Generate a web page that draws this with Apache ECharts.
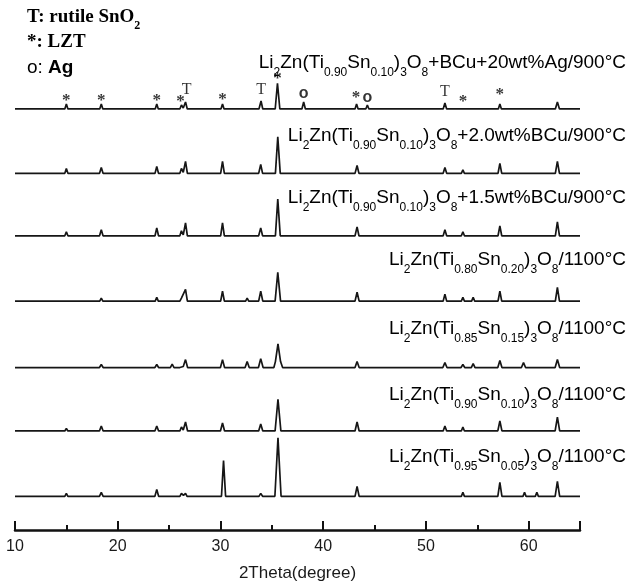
<!DOCTYPE html>
<html>
<head>
<meta charset="utf-8">
<script src="https://cdn.jsdelivr.net/npm/echarts/dist/echarts.min.js"></script>
<style>html,body{margin:0;padding:0;background:#fff}#c{width:630px;height:587px}</style>
</head>
<body>
<div id="c"></div>
<script>
// ---- data (2Theta in degrees, intensity in arbitrary units above each pattern's baseline) ----
const xTicks = [10, 20, 30, 40, 50, 60];

const sampleLabels = [
  '{m|Li}{s|2}{m|Zn(Ti}{s|0.90}{m|Sn}{s|0.10}{m|)}{s|3}{m|O}{s|8}{m|+BCu+20wt%Ag/900°C}',
  '{m|Li}{s|2}{m|Zn(Ti}{s|0.90}{m|Sn}{s|0.10}{m|)}{s|3}{m|O}{s|8}{m|+2.0wt%BCu/900°C}',
  '{m|Li}{s|2}{m|Zn(Ti}{s|0.90}{m|Sn}{s|0.10}{m|)}{s|3}{m|O}{s|8}{m|+1.5wt%BCu/900°C}',
  '{m|Li}{s|2}{m|Zn(Ti}{s|0.80}{m|Sn}{s|0.20}{m|)}{s|3}{m|O}{s|8}{m|/1100°C}',
  '{m|Li}{s|2}{m|Zn(Ti}{s|0.85}{m|Sn}{s|0.15}{m|)}{s|3}{m|O}{s|8}{m|/1100°C}',
  '{m|Li}{s|2}{m|Zn(Ti}{s|0.90}{m|Sn}{s|0.10}{m|)}{s|3}{m|O}{s|8}{m|/1100°C}',
  '{m|Li}{s|2}{m|Zn(Ti}{s|0.95}{m|Sn}{s|0.05}{m|)}{s|3}{m|O}{s|8}{m|/1100°C}'
];

// vertical stacking offset of each pattern (same units as intensity)
const offsets = [425, 360, 297, 231, 164, 100, 34];

const traceAg20 = [[10,0],[14.85,0],[15.0,5],[15.15,0],[18.25,0],[18.4,5],[18.55,0],[23.65,0],[23.8,5],[23.95,0],[26.05,0],[26.2,4],[26.38,1],[26.6,7],[26.77,0],[30.05,0],[30.2,5],[30.35,0],[33.75,0],[33.95,8],[34.12,0],[35.33,0],[35.55,26],[35.78,0],[37.93,0],[38.1,7],[38.27,0],[43.1,0],[43.25,5],[43.4,0],[44.15,0],[44.3,4],[44.45,0],[51.68,0],[51.85,6],[52.02,0],[53.45,0],[53.6,2],[53.75,0],[55.2,0],[55.3,1],[55.4,0],[57.05,0],[57.2,5],[57.35,0],[62.6,0],[62.8,7],[63.0,0],[65,0]];

const traceBCu20 = [[10,0],[14.85,0],[15.0,5],[15.15,0],[18.23,0],[18.4,6],[18.57,0],[23.63,0],[23.8,7],[23.97,0],[26.05,0],[26.2,5],[26.38,1],[26.6,12],[26.78,0],[30.02,0],[30.2,12],[30.38,0],[33.72,0],[33.92,9],[34.1,0],[35.35,0],[35.58,37],[35.82,0],[37.2,0],[37.3,2],[37.4,0],[43.1,0],[43.3,8],[43.48,0],[51.68,0],[51.85,6],[52.02,0],[53.45,0],[53.6,3.5],[53.75,0],[54.5,0],[54.6,2],[54.7,0],[57.02,0],[57.2,10],[57.38,0],[62.6,0],[62.8,12],[63.0,0],[65,0]];

const traceBCu15 = [[10,0],[14.85,0],[15.0,4],[15.15,0],[18.23,0],[18.4,6],[18.57,0],[23.63,0],[23.8,8],[23.97,0],[26.05,0],[26.2,5],[26.38,1],[26.6,13],[26.78,0],[30.02,0],[30.2,13],[30.38,0],[33.72,0],[33.92,8],[34.1,0],[35.35,0],[35.58,37],[35.82,0],[37.2,0],[37.3,2],[37.4,0],[43.1,0],[43.3,9],[43.48,0],[51.68,0],[51.85,6],[52.02,0],[53.45,0],[53.6,4],[53.75,0],[54.5,0],[54.6,2],[54.7,0],[57.02,0],[57.2,10],[57.38,0],[62.6,0],[62.8,14],[63.0,0],[65,0]];

const traceSn20 = [[10,0],[14.88,0],[15.0,2],[15.12,0],[18.25,0],[18.4,3],[18.55,0],[23.65,0],[23.8,4],[23.95,0],[26.05,0],[26.2,3],[26.38,1],[26.6,12],[26.78,0],[30.02,0],[30.2,10],[30.38,0],[32.45,0],[32.6,3],[32.75,0],[33.72,0],[33.92,10],[34.12,0],[35.32,0],[35.58,29],[35.85,0],[37.2,0],[37.3,2],[37.4,0],[43.1,0],[43.3,9],[43.5,0],[51.68,0],[51.85,7],[52.02,0],[53.45,0],[53.6,4],[53.75,0],[54.45,0],[54.6,4],[54.75,0],[57.02,0],[57.2,10],[57.38,0],[62.6,0],[62.8,14],[63.0,0],[65,0]];

const traceSn15 = [[10,0],[14.85,0],[15.0,1.5],[15.15,0],[18.22,0],[18.4,3],[18.58,0],[19.4,0],[19.5,1],[19.6,0],[23.62,0],[23.8,3],[23.98,0],[25.12,0],[25.3,3.5],[25.48,0],[26.05,0],[26.2,2],[26.38,1],[26.6,8],[26.8,0],[30.0,0],[30.2,8],[30.4,0],[32.4,0],[32.6,6],[32.8,0],[33.7,0],[33.92,9],[34.15,0],[35.2,0],[35.35,6],[35.6,24],[35.85,6],[36.05,0],[37.2,0],[37.3,1.5],[37.4,0],[43.1,0],[43.3,6],[43.5,0],[45.2,0],[45.3,1],[45.4,0],[50.2,0],[50.3,1],[50.4,0],[51.65,0],[51.85,5],[52.05,0],[53.42,0],[53.6,3],[53.78,0],[54.42,0],[54.6,4],[54.78,0],[57.0,0],[57.2,7],[57.4,0],[59.3,0],[59.5,5],[59.7,0],[62.58,0],[62.8,8],[63.02,0],[65,0]];

const traceSn10 = [[10,0],[14.85,0],[15.0,2.5],[15.15,0],[18.22,0],[18.4,5],[18.58,0],[23.62,0],[23.8,5],[23.98,0],[26.05,0],[26.2,4],[26.38,1],[26.6,9],[26.8,0],[30.0,0],[30.2,8],[30.4,0],[33.72,0],[33.92,7],[34.12,0],[35.32,0],[35.6,32],[35.88,0],[37.2,0],[37.3,2],[37.4,0],[43.1,0],[43.3,9],[43.5,0],[51.68,0],[51.85,5],[52.02,0],[53.45,0],[53.6,4],[53.75,0],[54.9,0],[55.0,1],[55.1,0],[57.0,0],[57.2,10],[57.4,0],[60.7,0],[60.8,1],[60.9,0],[62.58,0],[62.8,14],[63.02,0],[65,0]];

const traceSn05 = [[10,0],[14.85,0],[15.0,3],[15.15,0],[18.22,0],[18.4,4],[18.58,0],[23.62,0],[23.8,7],[23.98,0],[26.05,0],[26.2,3],[26.4,1],[26.6,3],[26.75,0],[30.1,0],[30.3,36],[30.5,0],[33.75,0],[33.92,3],[34.1,0],[35.3,0],[35.6,59],[35.9,0],[37.2,0],[37.3,1.5],[37.4,0],[43.1,0],[43.3,10],[43.5,0],[49.9,0],[50.0,2],[50.1,0],[51.72,0],[51.85,2],[51.98,0],[53.45,0],[53.6,4],[53.75,0],[57.0,0],[57.2,14],[57.4,0],[59.45,0],[59.6,4],[59.75,0],[60.65,0],[60.8,4],[60.95,0],[62.58,0],[62.8,15],[63.02,0],[65,0]];

const traces = [traceAg20, traceBCu20, traceBCu15, traceSn20, traceSn15, traceSn10, traceSn05];

// phase markers above the top pattern: [2Theta, marker height above baseline]
const lztMarks = [[15.0,11],[18.4,11],[23.8,11],[26.1,10],[30.2,12],[35.55,34],[43.2,15],[53.6,10],[57.2,18]];
const rutileMarks = [[26.7,19],[33.95,19],[51.85,17]];
const agMarks = [[38.1,16],[44.3,11]];

const legendLines = [
  {rich: '{tb|T: rutile SnO}{ts|2}', y: 17},
  {rich: '{tb|*: LZT}', y: 42},
  {rich: '{ar|o: }{ab|Ag}', y: 68}
];
const labelY = [63, 136, 198, 260, 329, 395, 457];

// ---- chart ----
const chart = echarts.init(document.getElementById('c'), null, {renderer: 'canvas'});
const lineColor = '#161616';
const series = traces.map((t, i) => ({
  type: 'line',
  data: t.map(p => [p[0], p[1] + offsets[i]]),
  showSymbol: false,
  symbol: 'none',
  lineStyle: {color: lineColor, width: 1.7},
  animation: false,
  z: 2
}));
function markSeries(arr, text, font, size, weight, dy) {
  return {
    type: 'scatter',
    data: arr.map(p => [p[0], p[1] + offsets[0]]),
    symbol: 'circle',
    symbolSize: 2,
    itemStyle: {color: 'rgba(0,0,0,0)'},
    animation: false,
    z: 5,
    label: {show: true, position: 'inside', offset: [0, dy], formatter: text, color: '#000',
      fontFamily: font, fontSize: size, fontWeight: weight}
  };
}
series.push(markSeries(lztMarks, '*', 'Liberation Serif', 17, 'bold', 3));
series.push(markSeries(rutileMarks, 'T', 'Liberation Serif', 16, 'normal', 0));
series.push(markSeries(agMarks, 'o', 'Liberation Sans', 16, 'bold', 0));

const richMain = {
  m: {fontFamily: 'Liberation Sans', fontSize: 19, color: '#1a1a1a', lineHeight: 32, verticalAlign: 'middle'},
  s: {fontFamily: 'Liberation Sans', fontSize: 12, color: '#1a1a1a', lineHeight: 12, verticalAlign: 'bottom'}
};
const richLegend = {
  tb: {fontFamily: 'Liberation Serif', fontSize: 19, fontWeight: 'bold', color: '#1a1a1a', lineHeight: 30, verticalAlign: 'middle'},
  ts: {fontFamily: 'Liberation Serif', fontSize: 12, fontWeight: 'bold', color: '#1a1a1a', lineHeight: 12, verticalAlign: 'bottom'},
  ar: {fontFamily: 'Liberation Sans', fontSize: 19, color: '#1a1a1a', lineHeight: 30, verticalAlign: 'middle'},
  ab: {fontFamily: 'Liberation Sans', fontSize: 19, fontWeight: 'bold', color: '#1a1a1a', lineHeight: 30, verticalAlign: 'middle'}
};
const graphics = [];
sampleLabels.forEach((s, i) => {
  graphics.push({type: 'text', x: 626, y: labelY[i], z: 10,
    style: {text: s, rich: richMain, align: 'right', verticalAlign: 'middle'}});
});
legendLines.forEach(l => {
  graphics.push({type: 'text', x: 27, y: l.y, z: 10,
    style: {text: l.rich, rich: richLegend, align: 'left', verticalAlign: 'middle'}});
});

chart.setOption({
  animation: false,
  backgroundColor: '#fff',
  grid: {left: 15, right: 50, top: 0, bottom: 52, containLabel: false},
  xAxis: [{
    type: 'value', min: 10, max: 65, interval: 10,
    axisLine: {show: true, lineStyle: {color: '#111', width: 2.5}},
    axisTick: {show: true, inside: true, length: 9, lineStyle: {color: '#111', width: 2}},
    axisLabel: {show: true, margin: 9, color: '#1a1a1a', fontFamily: 'Liberation Sans', fontSize: 16,
      formatter: v => (xTicks.indexOf(v) >= 0 ? String(v) : '')},
    splitLine: {show: false},
    name: '2Theta(degree)', nameLocation: 'middle', nameGap: 35,
    nameTextStyle: {color: '#1a1a1a', fontFamily: 'Liberation Sans', fontSize: 17}
  }, {
    type: 'value', min: 10, max: 65, interval: 5, position: 'bottom',
    axisLine: {show: false},
    axisTick: {show: true, inside: true, length: 5, lineStyle: {color: '#111', width: 2}},
    axisLabel: {show: false}, splitLine: {show: false}
  }],
  yAxis: {type: 'value', min: 0, max: 535, show: false},
  series: series,
  graphic: graphics
});
</script>
</body>
</html>
